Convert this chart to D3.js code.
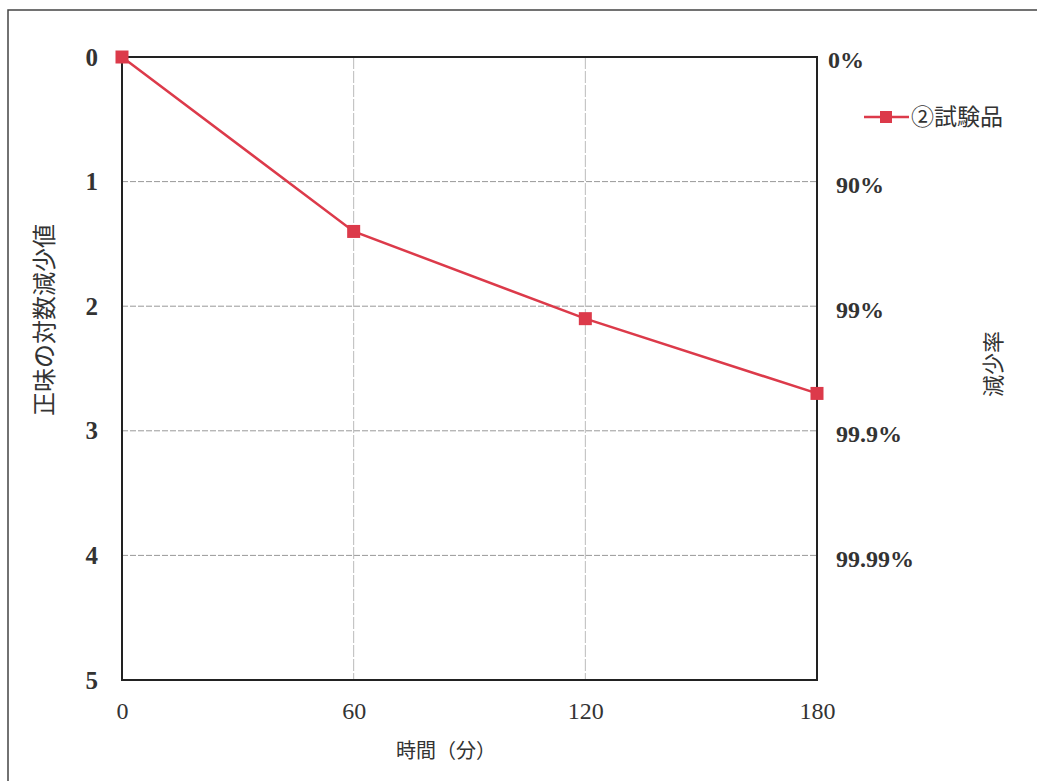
<!DOCTYPE html>
<html>
<head>
<meta charset="utf-8">
<script src="https://cdn.jsdelivr.net/npm/d3@7"></script>
<style>
  body { margin: 0; background: #fff; }
  svg { display: block; }
  .tick text { font-family: "Liberation Serif", "DejaVu Serif", serif; font-size: 25px; fill: #333; font-weight: bold; }
  .xax .tick text { font-weight: normal; font-size: 24px; }
  .rax .tick text { font-size: 24px; }
  .jp { font-family: "Noto Sans CJK JP", sans-serif; font-size: 19px; fill: #333; }
</style>
</head>
<body>
<div id="graph"></div>
<script>
// values
var times = [0, 60, 120, 180];
var logReduction = [0, 1.4, 2.1, 2.7];
var xTicks = [0, 60, 120, 180];
var yTicks = [0, 1, 2, 3, 4, 5];
var rateLabels = ["0%", "90%", "99%", "99.9%", "99.99%"];
var seriesName = "②試験品";

var W = 1037, H = 781;
var plotL = 122, plotR = 817, plotT = 57, plotB = 680;

var svg = d3.select("#graph").append("svg")
  .attr("width", W)
  .attr("height", H);

// outer frame (scanned page border)
svg.append("rect")
  .attr("x", 8).attr("y", 10)
  .attr("width", W + 20).attr("height", H + 20)
  .attr("fill", "none").attr("stroke", "#444").attr("stroke-width", 1.5);

var x = d3.scaleLinear().domain([0, 180]).range([plotL, plotR]);
var y = d3.scaleLinear().domain([0, 5]).range([plotT, plotB]);

// grid
svg.selectAll(".hgrid")
  .data(yTicks.filter(function (d) { return d > 0 && d < 5; }))
  .enter().append("line")
  .attr("x1", plotL).attr("x2", plotR)
  .attr("y1", function (d) { return y(d); })
  .attr("y2", function (d) { return y(d); })
  .attr("stroke", "#999").attr("stroke-width", 1)
  .attr("stroke-dasharray", "6,2");

svg.selectAll(".vgrid")
  .data(xTicks.filter(function (d) { return d > 0 && d < 180; }))
  .enter().append("line")
  .attr("y1", plotT).attr("y2", plotB)
  .attr("x1", function (d) { return x(d); })
  .attr("x2", function (d) { return x(d); })
  .attr("stroke", "#bbb").attr("stroke-width", 1)
  .attr("stroke-dasharray", "12,2");

// plot frame
svg.append("rect")
  .attr("x", plotL).attr("y", plotT)
  .attr("width", plotR - plotL).attr("height", plotB - plotT)
  .attr("fill", "none").attr("stroke", "#222").attr("stroke-width", 2);

// axes (labels only, frame already drawn)
var yAxis = svg.append("g")
  .attr("transform", "translate(" + plotL + ",0)")
  .call(d3.axisLeft(y).tickValues(yTicks).tickFormat(d3.format("d")).tickSize(0).tickPadding(24));
yAxis.select(".domain").remove();

var xAxis = svg.append("g")
  .attr("class", "xax")
  .attr("transform", "translate(0," + plotB + ")")
  .call(d3.axisBottom(x).tickValues(xTicks).tickSize(0).tickPadding(22));
xAxis.select(".domain").remove();

var rAxis = svg.append("g")
  .attr("class", "rax")
  .attr("transform", "translate(" + plotR + ",0)")
  .call(d3.axisRight(y)
    .tickValues(d3.range(rateLabels.length))
    .tickFormat(function (d) { return rateLabels[d]; })
    .tickSize(0).tickPadding(18));
rAxis.select(".domain").remove();
rAxis.selectAll(".tick text")
  .attr("dy", "0.45em")
  .attr("x", function (d) { return d === 0 ? 11 : 19; });

// series
var pts = times.map(function (t, i) { return [t, logReduction[i]]; });
var line = d3.line()
  .x(function (d) { return x(d[0]); })
  .y(function (d) { return y(d[1]); });

svg.append("path")
  .datum(pts)
  .attr("d", line)
  .attr("fill", "none")
  .attr("stroke", "#dc3a4a")
  .attr("stroke-width", 2.5);

svg.selectAll(".mark")
  .data(pts)
  .enter().append("rect")
  .attr("x", function (d) { return x(d[0]) - 6.5; })
  .attr("y", function (d) { return y(d[1]) - 6.5; })
  .attr("width", 13).attr("height", 13)
  .attr("fill", "#dc3a4a");

// legend
var lg = svg.append("g").attr("transform", "translate(864,117)");
lg.append("line")
  .attr("x1", 0).attr("x2", 45).attr("y1", 0).attr("y2", 0)
  .attr("stroke", "#dc3a4a").attr("stroke-width", 2.5);
lg.append("rect")
  .attr("x", 16).attr("y", -6).attr("width", 12).attr("height", 12)
  .attr("fill", "#dc3a4a");
lg.append("text")
  .attr("class", "jp")
  .style("font-size", "23px")
  .attr("x", 47).attr("y", 8)
  .text(seriesName);

// axis titles
svg.append("text")
  .attr("class", "jp")
  .style("font-size", "24px")
  .attr("text-anchor", "middle")
  .attr("transform", "translate(53,320) rotate(-90)")
  .text("正味の対数減少値");

svg.append("text")
  .attr("class", "jp")
  .style("font-size", "22px")
  .attr("text-anchor", "middle")
  .attr("transform", "translate(1001,364) rotate(-90)")
  .text("減少率");

svg.append("text")
  .attr("class", "jp")
  .style("font-size", "20px")
  .attr("text-anchor", "middle")
  .attr("x", 446).attr("y", 758)
  .text("時間（分）");
</script>
</body>
</html>
